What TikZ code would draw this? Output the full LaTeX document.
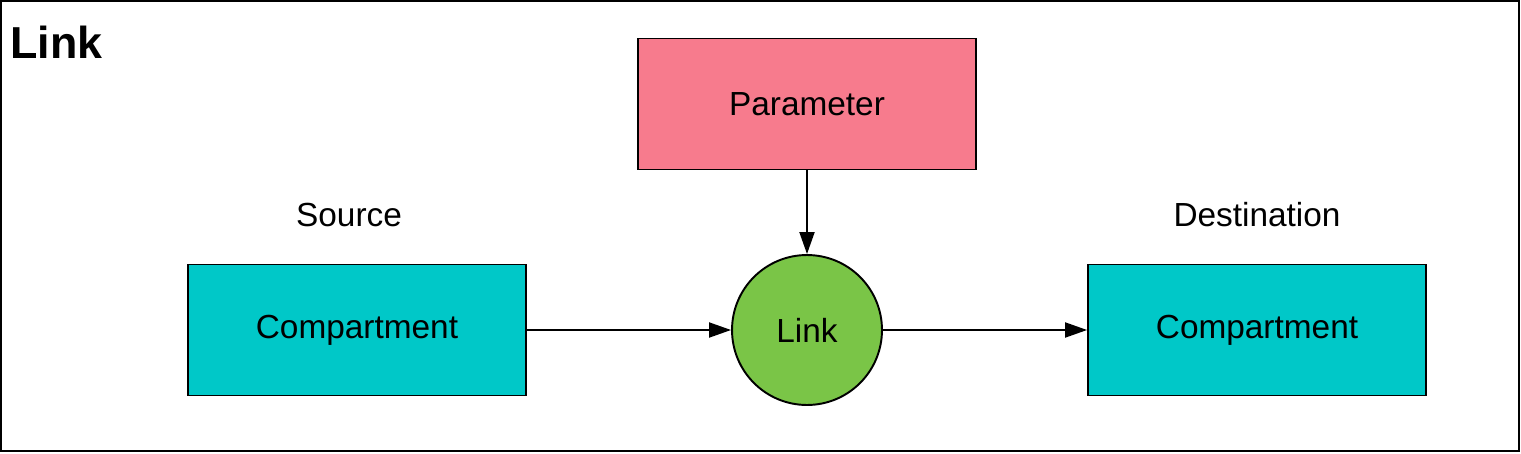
\documentclass[tikz,border=0pt]{standalone}
\usepackage{fontspec}
\setmainfont{Liberation Sans}
\usepackage{xcolor}
\usetikzlibrary{arrows.meta}
\definecolor{parpink}{HTML}{F77B8D}
\definecolor{compteal}{HTML}{00C8C8}
\definecolor{linkgreen}{HTML}{7AC547}
\tikzset{
	box/.style={
			draw, line width=1.1pt, minimum width=6.76cm, minimum height=2.62cm,
			inner sep=0pt, font=\fontsize{19}{22}\selectfont
		},
	compartment/.style={box, fill=compteal},
	parameter/.style={box, fill=parpink},
	linknode/.style={
			circle, draw, line width=1.1pt, fill=linkgreen, minimum size=3cm,
			inner sep=0pt, font=\fontsize{19}{22}\selectfont
		},
	caption/.style={font=\fontsize{19}{22}\selectfont},
	flow/.style={line width=1.1pt, -{Triangle[length=0.44cm, width=0.3cm]}}
}

\begin{document}
\begin{tikzpicture}[x=0.02cm, y=-0.02cm]
	\useasboundingbox (0,0) rectangle (1521,453);
	\draw[line width=1.1pt] (1,1) rectangle (1519,451);
	\node[anchor=west, font=\bfseries\fontsize{25.5}{28}\selectfont] (title) at (4,42) {Link};

	\node[compartment] (src) at (357,330) {Compartment};
	\node[parameter] (par) at (807,104) {Parameter};
	\node[linknode] (lnk) at (807,330) {Link};
	\node[compartment] (dst) at (1257,330) {Compartment};

	\node[caption] (srclabel) at (349,215) {Source};
	\node[caption] (dstlabel) at (1257,215) {Destination};

	\draw[flow] (src) -- (lnk);
	\draw[flow] (lnk) -- (dst);
	\draw[flow] (par) -- (lnk);
\end{tikzpicture}
\end{document}
